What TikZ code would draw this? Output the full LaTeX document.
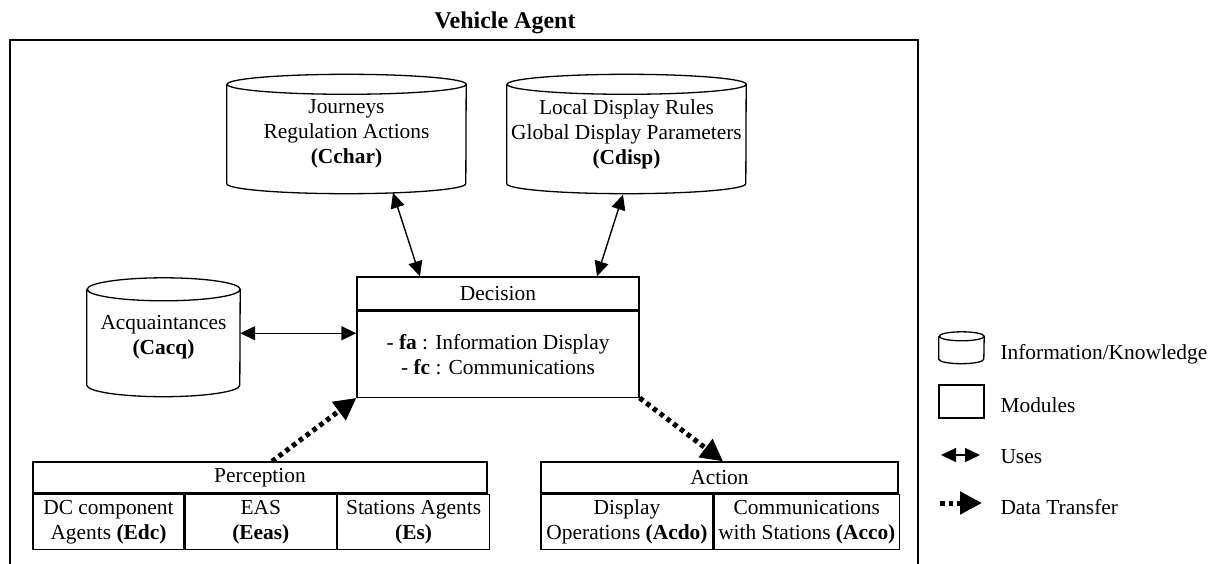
\documentclass[tikz,border=0pt]{standalone}
\usepackage{fontspec}
\setmainfont{Liberation Serif}
\usetikzlibrary{arrows.meta,calc}
\newcommand\cylshape[3]{%
  \draw[cylline] (#1.north west) -- (#1.south west)
    arc[start angle=180, end angle=360, x radius=#2, y radius=#3]
    -- (#1.north east)
    arc[start angle=0, end angle=360, x radius=#2, y radius=#3];}
\begin{document}
\begin{tikzpicture}[x=1pt,y=-1pt,
  every node/.style={font=\fontsize{21.4}{25}\selectfont},
  cylline/.style={line width=1.3pt},
  cylbody/.style={inner sep=0pt, align=center},
  box/.style={draw, line width=1.3pt, inner sep=0pt, align=center},
  uses/.style={line width=1.4pt, {Triangle[length=15pt,width=14pt]}-{Triangle[length=15pt,width=14pt]}},
  transfer/.style={line width=5pt, dash pattern=on 4.5pt off 4pt, -{Triangle[length=22pt,width=22pt]}},
  frameside/.style={line width=1.4pt},
  frametop/.style={line width=2.6pt},
  legtext/.style={anchor=base west}]
\useasboundingbox (0,0) rectangle (1215,564);

% title and frame
\node[anchor=base, font=\bfseries\fontsize{24}{28}\selectfont] (title) at (505,29) {Vehicle Agent};
\coordinate (fTL) at (10,40); \coordinate (fTR) at (918,40);
\coordinate (fBL) at (10,570); \coordinate (fBR) at (918,570);
\draw[frameside] (fTL) -- (fBL);
\draw[frameside] (fTR) -- (fBR);
\draw[frametop] ([xshift=-0.7pt]fTL) -- ([xshift=0.7pt]fTR);

% knowledge stores
\node[cylbody, minimum width=239pt, minimum height=99pt] (cchar) at (346.5,134)
  {Journeys\\Regulation Actions\\\textbf{(Cchar)}};
\cylshape{cchar}{119.5pt}{10pt}
\node[cylbody, minimum width=239pt, minimum height=99pt] (cdisp) at (626.5,134)
  {Local Display Rules\\Global Display Parameters\\\textbf{(Cdisp)}};
\cylshape{cdisp}{119.5pt}{10pt}
\node[cylbody, minimum width=153pt, minimum height=95.5pt] (cacq) at (163.5,337.25)
  {Acquaintances\\\textbf{(Cacq)}};
\cylshape{cacq}{76.5pt}{11.5pt}

% decision
\node[box, minimum width=282pt, minimum height=33pt] (dechead) at (498,293.5) {Decision};
\node[box, minimum width=282pt, minimum height=86pt, anchor=north] (decbody) at (dechead.south)
  {- \textbf{fa} : Information Display\\- \textbf{fc} : Communications};

% perception
\node[box, minimum width=454pt, minimum height=31pt] (perchead) at (260,477.5) {Perception};
\node[box, minimum width=151pt, minimum height=55pt, anchor=north west] (edc) at (perchead.south west)
  {DC component\\Agents \textbf{(Edc)}};
\node[box, minimum width=151pt, minimum height=55pt, anchor=north west] (eeas) at (edc.north east)
  {EAS\\\textbf{(Eeas)}};
\node[box, minimum width=152pt, minimum height=55pt, anchor=north west] (es) at (eeas.north east)
  {Stations Agents\\\textbf{(Es)}};

% action
\node[box, minimum width=357pt, minimum height=31pt] (acthead) at (719.5,477.5) {Action};
\node[box, minimum width=172pt, minimum height=55pt, anchor=north west] (acdo) at (acthead.south west)
  {Display\\Operations \textbf{(Acdo)}};
\node[box, minimum width=185pt, minimum height=55pt, anchor=north west] (acco) at (acdo.north east)
  {Communications\\with Stations \textbf{(Acco)}};

% connectors
\draw[uses] ([yshift=4pt]cacq.east) -- ([yshift=4pt]cacq.east -| decbody.west);
\draw[uses] ([xshift=46.5pt,yshift=-9.2pt]cchar.south) -- ([xshift=-78pt]dechead.north);
\draw[uses] ([xshift=-3.5pt,yshift=-11pt]cdisp.south) -- ([xshift=99pt]dechead.north);
\draw[transfer] ([xshift=12pt]perchead.north) -- (decbody.south west);
\draw[transfer] (decbody.south east) -- ([xshift=3.5pt]acthead.north);

% legend
\node[cylbody, minimum width=45pt, minimum height=22.5pt] (legcyl) at (961.5,347.75) {};
\cylshape{legcyl}{22.5pt}{4.5pt}
\node[box, minimum width=45pt, minimum height=33pt] (legmod) at (961.5,401.5) {};
\coordinate (legU1) at (941,455); \coordinate (legU2) at (980,455);
\draw[uses] (legU1) -- (legU2);
\coordinate (legT1) at (940,503); \coordinate (legT2) at (982,503);
\draw[transfer] (legT1) -- (legT2);
\node[legtext] (lt1) at (997,359) {Information/Knowledge};
\node[legtext] (lt2) at (997,412) {Modules};
\node[legtext] (lt3) at (997,463) {Uses};
\node[legtext] (lt4) at (997,514) {Data Transfer};
\end{tikzpicture}
\end{document}
